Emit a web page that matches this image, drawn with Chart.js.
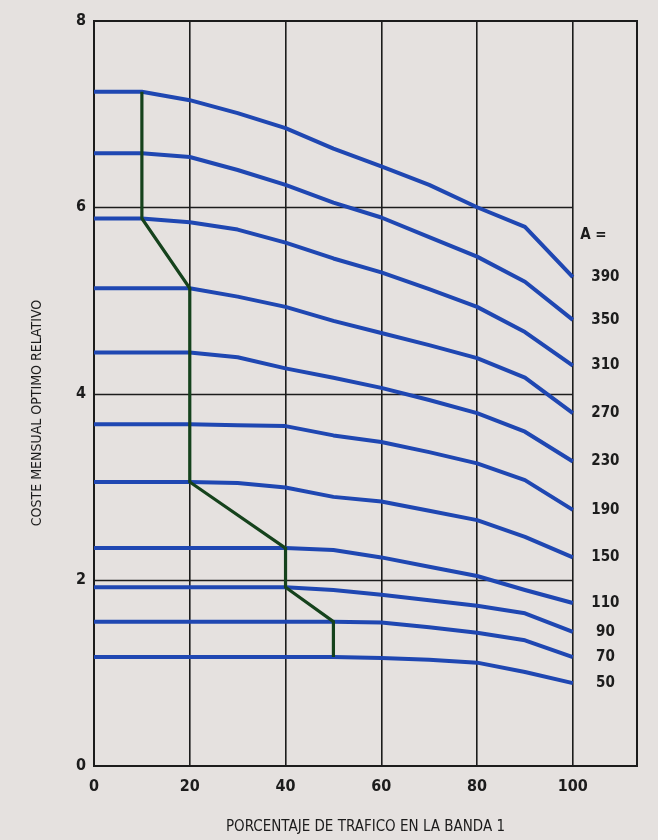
<!DOCTYPE html>
<html>
<head>
<meta charset="utf-8">
<script src="https://cdn.jsdelivr.net/npm/chart.js@4/dist/chart.umd.min.js"></script>
<style>
  html, body { margin: 0; padding: 0; background: #e5e1df; }
  canvas { display: block; }
</style>
</head>
<body>
<canvas id="c" width="658" height="840"></canvas>
<script>
// Porcentaje de tráfico en la banda 1 (eje X)
const trafico = [0, 10, 20, 30, 40, 50, 60, 70, 80, 90, 100];

// Valores del parámetro A para cada curva
const valoresA = [390, 350, 310, 270, 230, 190, 150, 110, 90, 70, 50];

// Coste mensual óptimo relativo, una serie por valor de A
const coste390 = [7.24, 7.24, 7.15, 7.01, 6.85, 6.63, 6.44, 6.24, 6.00, 5.79, 5.25];
const coste350 = [6.58, 6.58, 6.54, 6.40, 6.24, 6.05, 5.89, 5.68, 5.47, 5.20, 4.79];
const coste310 = [5.88, 5.88, 5.84, 5.76, 5.62, 5.45, 5.30, 5.12, 4.93, 4.66, 4.30];
const coste270 = [5.13, 5.13, 5.13, 5.04, 4.93, 4.78, 4.65, 4.52, 4.38, 4.17, 3.79];
const coste230 = [4.44, 4.44, 4.44, 4.39, 4.27, 4.17, 4.06, 3.93, 3.79, 3.59, 3.27];
const coste190 = [3.67, 3.67, 3.67, 3.66, 3.65, 3.55, 3.48, 3.37, 3.25, 3.07, 2.75];
const coste150 = [3.05, 3.05, 3.05, 3.04, 2.99, 2.89, 2.84, 2.74, 2.64, 2.46, 2.24];
const coste110 = [2.34, 2.34, 2.34, 2.34, 2.34, 2.32, 2.24, 2.14, 2.04, 1.89, 1.75];
const coste90  = [1.92, 1.92, 1.92, 1.92, 1.92, 1.89, 1.84, 1.78, 1.72, 1.64, 1.44];
const coste70  = [1.55, 1.55, 1.55, 1.55, 1.55, 1.55, 1.54, 1.49, 1.43, 1.35, 1.17];
const coste50  = [1.17, 1.17, 1.17, 1.17, 1.17, 1.17, 1.16, 1.14, 1.11, 1.01, 0.89];
const costes = [coste390, coste350, coste310, coste270, coste230, coste190,
                coste150, coste110, coste90, coste70, coste50];

// Trayectoria de los puntos óptimos
const optimoX = [10, 10, 20, 20, 40, 40, 50, 50];
const optimoY = [7.24, 5.88, 5.13, 3.05, 2.34, 1.92, 1.55, 1.17];

// Marcas de los ejes
const ticksX = [0, 20, 40, 60, 80, 100];
const ticksY = [0, 2, 4, 6, 8];
const lineasY = [2, 4, 6];

const FONT = "'Liberation Sans Narrow', 'DejaVu Sans Condensed', 'Roboto Condensed', sans-serif";
const AZUL = '#1f47b2';
const VERDE = '#15421c';
const TINTA = '#1c1c1c';

const datasets = [{
  label: 'Óptimo',
  data: optimoX.map((x, i) => ({ x, y: optimoY[i] })),
  borderColor: VERDE,
  borderWidth: 3.2,
  pointRadius: 0,
  tension: 0,
  borderJoinStyle: 'miter'
}].concat(costes.map((serie, k) => ({
  label: 'A = ' + valoresA[k],
  data: trafico.map((x, i) => ({ x, y: serie[i] })),
  borderColor: AZUL,
  borderWidth: 4,
  pointRadius: 0,
  tension: 0,
  borderJoinStyle: 'round'
})));

// Marco, rejilla horizontal hasta 100 %, rótulos de A y títulos de ejes
const decoracion = {
  id: 'decoracion',
  beforeDatasetsDraw(chart) {
    const { ctx, chartArea: a, scales: { x, y } } = chart;
    ctx.save();
    ctx.strokeStyle = TINTA;
    ctx.lineWidth = 1.6;
    lineasY.forEach(v => {
      const py = Math.round(y.getPixelForValue(v)) + 0.5;
      ctx.beginPath();
      ctx.moveTo(a.left, py);
      ctx.lineTo(x.getPixelForValue(100), py);
      ctx.stroke();
    });
    ctx.lineWidth = 2;
    ctx.strokeRect(a.left, a.top, a.right - a.left, a.bottom - a.top);
    ctx.restore();
  },
  afterDatasetsDraw(chart) {
    const { ctx, chartArea: a, scales: { x, y } } = chart;
    ctx.save();
    ctx.fillStyle = TINTA;
    ctx.textBaseline = 'middle';
    ctx.textAlign = 'center';
    ctx.font = 'bold 15px ' + FONT;
    ctx.fillText('A =', x.getPixelForValue(104.3), y.getPixelForValue(5.70));
    valoresA.forEach((v, k) => {
      const serie = costes[k];
      ctx.fillText(String(v), x.getPixelForValue(106.8), y.getPixelForValue(serie[serie.length - 1]));
    });
    ctx.font = '15px ' + FONT;
    ctx.fillText('PORCENTAJE DE TRAFICO EN LA BANDA 1', (a.left + a.right) / 2, 827);
    ctx.font = '14px ' + FONT;
    ctx.translate(37, 413);
    ctx.rotate(-Math.PI / 2);
    ctx.fillText('COSTE MENSUAL OPTIMO RELATIVO', 0, 0);
    ctx.restore();
  }
};

new Chart(document.getElementById('c'), {
  type: 'line',
  data: { datasets },
  plugins: [decoracion],
  options: {
    responsive: false,
    animation: false,
    devicePixelRatio: 1,
    layout: { padding: { top: 21, right: 21, left: 0, bottom: 0 } },
    plugins: { legend: { display: false }, tooltip: { enabled: false } },
    scales: {
      x: {
        type: 'linear',
        min: 0,
        max: 113.4,
        afterBuildTicks: s => { s.ticks = ticksX.map(v => ({ value: v })); },
        afterFit: s => { s.height = 74; },
        grid: { color: TINTA, lineWidth: 1.6, drawTicks: false },
        border: { display: false },
        ticks: { color: TINTA, font: { family: FONT, size: 16, weight: 'bold' }, padding: 11, maxRotation: 0 }
      },
      y: {
        type: 'linear',
        min: 0,
        max: 8,
        afterBuildTicks: s => { s.ticks = ticksY.map(v => ({ value: v })); },
        afterFit: s => { s.width = 94; },
        grid: { display: false, drawTicks: false },
        border: { display: false },
        ticks: { color: TINTA, font: { family: FONT, size: 16, weight: 'bold' }, padding: 8 }
      }
    }
  }
});
</script>
</body>
</html>
